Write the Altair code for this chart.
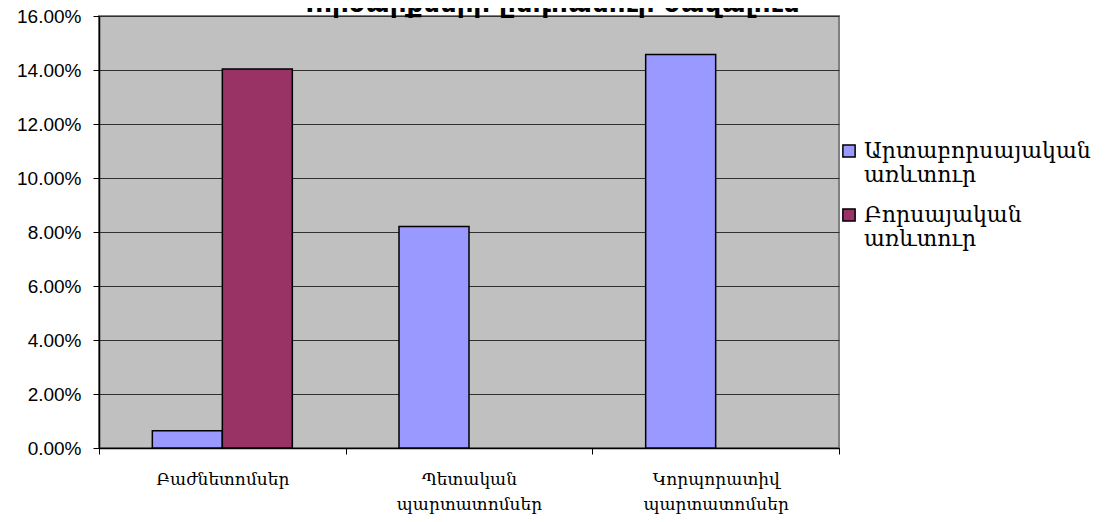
import altair as alt
import pandas as pd

title_text = "Գործարքների ընդհանուր ծավալում"
categories = ["Բաժնետոմսեր", "Պետական պարտատոմսեր", "Կորպորատիվ պարտատոմսեր"]
series = ["Արտաբորսայական առևտուր", "Բորսայական առևտուր"]
otc_values = [0.0064, 0.082, 0.1457]
exchange_values = [0.1404, None, None]
y_ticks = [0.0, 0.02, 0.04, 0.06, 0.08, 0.10, 0.12, 0.14, 0.16]
colors = ["#9999FF", "#993366"]

rows = []
for c, v in zip(categories, otc_values):
    if v is not None:
        rows.append({"category": c, "series": series[0], "share": v})
for c, v in zip(categories, exchange_values):
    if v is not None:
        rows.append({"category": c, "series": series[1], "share": v})
df = pd.DataFrame(rows)
title_df = pd.DataFrame({"title": [title_text]})

bars = alt.Chart(df).mark_bar(stroke="black", strokeWidth=1.5).encode(
    x=alt.X(
        "category:N",
        sort=categories,
        scale=alt.Scale(domain=categories, paddingInner=0, paddingOuter=0),
        axis=alt.Axis(
            title=None, labelAngle=0, tickBand="extent",
            labelExpr="split(datum.label, ' ')",
            labelFont="DejaVu Serif", labelFontSize=17, labelColor="black",
            labelLineHeight=25, labelPadding=17,
            tickColor="black", tickSize=6, domainColor="black", domainWidth=1.5,
            labelBaseline="top",
        ),
    ),
    xOffset=alt.XOffset(
        "series:N", sort=series,
        scale=alt.Scale(domain=series, paddingOuter=0.762, paddingInner=0),
    ),
    y=alt.Y(
        "share:Q",
        scale=alt.Scale(domain=[0, 0.16], nice=False),
        axis=alt.Axis(
            values=y_ticks, format=".2%", title=None,
            labelFont="Liberation Sans", labelFontSize=19, labelColor="black",
            labelPadding=12, tickSize=6, tickColor="black",
            domainColor="black", domainWidth=1.5,
            grid=True, gridColor="#303030", gridWidth=1,
        ),
    ),
    color=alt.Color(
        "series:N", sort=series,
        scale=alt.Scale(domain=series, range=colors),
        legend=alt.Legend(
            title=None, orient="none", legendX=739, legendY=124,
            labelExpr="split(datum.label, ' ')",
            labelFont="DejaVu Serif", labelFontSize=22, labelColor="black",
            labelLimit=400,
            symbolType="square", symbolSize=150,
            symbolStrokeColor="black", symbolStrokeWidth=1.5,
            rowPadding=18, padding=0,
        ),
    ),
)

title_layer = alt.Chart(title_df).mark_text(
    font="DejaVu Sans", fontWeight="bold", fontSize=26, color="black",
    align="center", baseline="alphabetic",
).encode(
    text=alt.Text("title:N"),
    x=alt.value(449),
    y=alt.value(-4),
)

chart = alt.layer(bars, title_layer).properties(
    width=740,
    height=432,
    autosize=alt.AutoSizeParams(type="none"),
    padding={"left": 91, "top": 8, "right": 268, "bottom": 66},
).configure_view(
    fill="#C0C0C0", stroke="#808080", strokeWidth=2
)

chart.save("out.html", embed_options={"renderer": "svg", "actions": False})
